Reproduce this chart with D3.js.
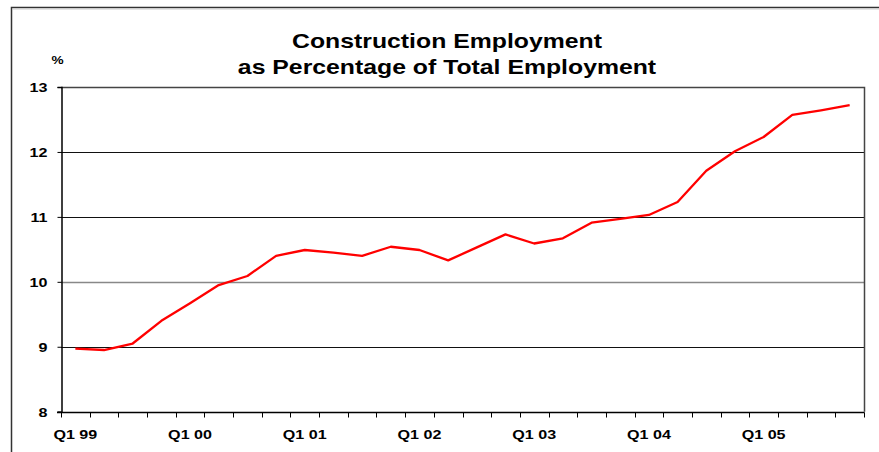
<!DOCTYPE html>
<html>
<head>
<meta charset="utf-8">
<script src="https://cdn.jsdelivr.net/npm/d3@7"></script>
<style>
  html, body { margin: 0; padding: 0; background: #fff; }
  svg { display: block; }
  text { font-family: "Liberation Sans", Arial, sans-serif; font-weight: bold; fill: #000; }
</style>
</head>
<body>
<svg id="chart" width="879" height="452"></svg>
<script>
const years = ["99", "00", "01", "02", "03", "04", "05"];
const quarters = ["Q1", "Q2", "Q3", "Q4"];
const categories = years.flatMap(y => quarters.map(q => q + " " + y));
const values = [
  8.97, 8.95, 9.05, 9.40, 9.67, 9.95, 10.09, 10.40,
  10.49, 10.45, 10.40, 10.54, 10.49, 10.33, 10.53, 10.73,
  10.59, 10.67, 10.91, 10.97, 11.03, 11.23, 11.71, 12.01,
  12.23, 12.57, 12.64, 12.72
];
const yTicks = [8, 9, 10, 11, 12, 13];
const xLabelCats = categories.filter(c => c.startsWith("Q1"));
const titleLines = ["Construction Employment", "as Percentage of Total Employment"];
const yUnit = "%";

const SX = 1.24; // horizontal stretch of the lettering in the reference
const svg = d3.select("#chart");
const plot = { left: 61, top: 87, right: 864, bottom: 411.7 };

function stretchedText(sel, px, py, size, anchor, str) {
  return sel.append("text")
    .attr("transform", `translate(${px},${py}) scale(${SX},1)`)
    .attr("text-anchor", anchor)
    .style("font-size", size + "px")
    .text(str);
}

// outer frame
svg.append("rect").attr("x", 11.5).attr("y", 7.5).attr("width", 1000).attr("height", 600)
  .attr("fill", "none").attr("stroke", "#333").attr("stroke-width", 1.5);
svg.append("line").attr("x1", 12.5).attr("x2", 879).attr("y1", 9).attr("y2", 9)
  .attr("stroke", "#ccc").attr("stroke-width", 1);

const x = d3.scaleBand().domain(categories).range([plot.left, plot.right]).padding(0);
const y = d3.scaleLinear().domain([8, 13]).range([plot.bottom, plot.top]);

// gridlines
svg.append("g").selectAll("line").data(yTicks.filter(t => t > 8 && t < 13)).join("line")
  .attr("x1", plot.left).attr("x2", plot.right)
  .attr("y1", d => Math.round(y(d)) + 0.5).attr("y2", d => Math.round(y(d)) + 0.5)
  .attr("stroke", d => d === 10 ? "#888" : "#111").attr("stroke-width", d => d === 10 ? 1.5 : 1);

// plot border (top & right)
svg.append("path")
  .attr("d", `M${plot.left},${Math.round(plot.top) + 0.5}H${plot.right + 0.5}V${plot.bottom}`)
  .attr("fill", "none").attr("stroke", "#444").attr("stroke-width", 1.5);

// y axis (ticks and domain through d3 axis, labels stretched)
const yAxis = d3.axisLeft(y).tickValues(yTicks).tickSize(4).tickFormat(d3.format("d"));
const gy = svg.append("g").attr("transform", `translate(${plot.left + 0.5},0)`).call(yAxis);
gy.select(".domain").attr("stroke", "#000").attr("stroke-width", 1.5);
gy.selectAll(".tick line").attr("stroke", "#000");
gy.selectAll(".tick text").remove();
gy.selectAll(".tick").each(function(d) {
  stretchedText(d3.select(this), -14, 4.5, 13, "end", d3.format("d")(d));
});

// x axis: ticks at band boundaries
const boundaries = d3.range(categories.length + 1).map(i => plot.left + i * x.bandwidth());
const gx = svg.append("g").attr("transform", `translate(0,${Math.round(plot.bottom) + 0.5})`);
gx.append("line").attr("x1", plot.left - 4).attr("x2", plot.right + 0.5).attr("stroke", "#000").attr("stroke-width", 1.5);
gx.selectAll("line.tk").data(boundaries).join("line").attr("class", "tk")
  .attr("x1", d => Math.round(d) + 0.5).attr("x2", d => Math.round(d) + 0.5)
  .attr("y1", 0).attr("y2", 5).attr("stroke", "#000");
xLabelCats.forEach(c => stretchedText(gx, x(c) + x.bandwidth() / 2, 26, 13, "middle", c));

// line
const line = d3.line().x((d, i) => x(categories[i]) + x.bandwidth() / 2).y(d => y(d));
svg.append("path").datum(values).attr("d", line)
  .attr("fill", "none").attr("stroke", "#ff0000").attr("stroke-width", 2.3)
  .attr("stroke-linejoin", "round");

// title
stretchedText(svg, 447, 48, 20, "middle", titleLines[0]);
stretchedText(svg, 447, 74, 20, "middle", titleLines[1]);

// unit
stretchedText(svg, 57.5, 64, 11, "middle", yUnit);
</script>
</body>
</html>
